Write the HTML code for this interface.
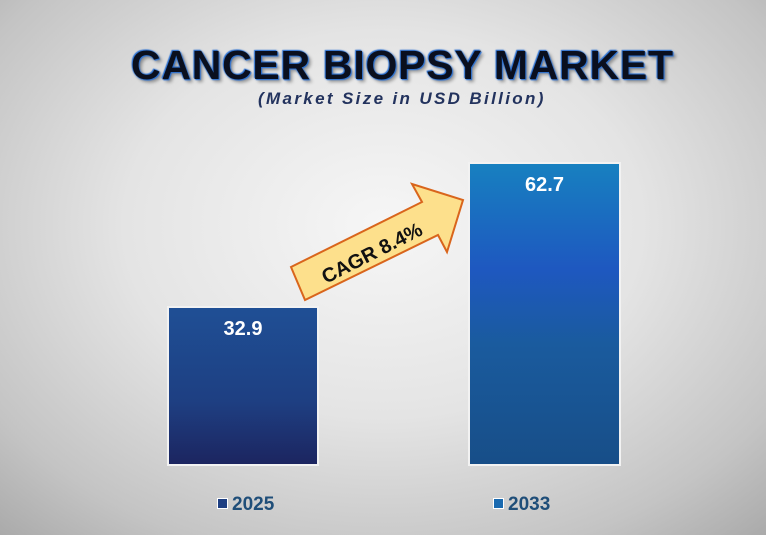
<!DOCTYPE html>
<html><head><meta charset="utf-8"><style>
html,body{margin:0;padding:0}
body{width:766px;height:535px;position:relative;overflow:hidden;font-family:"Liberation Sans",Arial,sans-serif;
background:radial-gradient(ellipse 75% 80% at 50% 42%,#f6f6f6 0%,#e4e4e4 45%,#c4c4c4 80%,#a8a8a8 100%);}
.t{position:absolute;white-space:nowrap}
.bar{position:absolute;border:2px solid #f2f2f2;box-sizing:border-box}
.val{position:absolute;width:100%;text-align:center;color:#fff;font-weight:bold;font-size:20px}
.lg{position:absolute;top:494px;font-size:19px;font-weight:bold;color:#1f4e79}
.sq{display:inline-block;width:9px;height:9px;border:1.5px solid #fff;margin-right:4px;vertical-align:1px}
</style></head><body>
<div class="t" style="left:131px;top:42px;font-size:41px;font-weight:bold;letter-spacing:0.75px;color:#0a0f1e;text-shadow:0 0 2px #2a6fd0,1px 1px 1px #2a6fd0,-1px -1px 1px #2a6fd0,3px 3px 3px rgba(0,0,0,.35);">CANCER BIOPSY MARKET</div>
<div class="t" style="left:258px;top:89px;font-size:17px;font-weight:bold;font-style:italic;letter-spacing:2.35px;color:#23335e;">(Market Size in USD Billion)</div>
<div class="bar" style="left:167px;top:306px;width:152px;height:160px;background:linear-gradient(#1f4f95,#1e3f82 60%,#1c2560);"><div class="val" style="top:10px">32.9</div></div>
<div class="bar" style="left:468px;top:162px;width:153px;height:304px;background:linear-gradient(#1780c0,#1e58c0 35%,#1a5b9e 60%,#174e88);"><div class="val" style="top:10px">62.7</div></div>
<svg style="position:absolute;left:0;top:0" width="766" height="535">
<polygon points="291,267 422,202 412,184 463,200 447,252 438,235 305,300" fill="#fde08c" stroke="#d9651c" stroke-width="2"/>
<text x="0" y="0" transform="translate(375,259) rotate(-27)" text-anchor="middle" font-family="Liberation Sans,Arial,sans-serif" font-weight="bold" font-size="20" fill="#111">CAGR 8.4%</text>
</svg>
<div class="lg" style="left:217px"><span class="sq" style="background:#1e3f82"></span>2025</div>
<div class="lg" style="left:493px"><span class="sq" style="background:#1a6ab0"></span>2033</div>
</body></html>
